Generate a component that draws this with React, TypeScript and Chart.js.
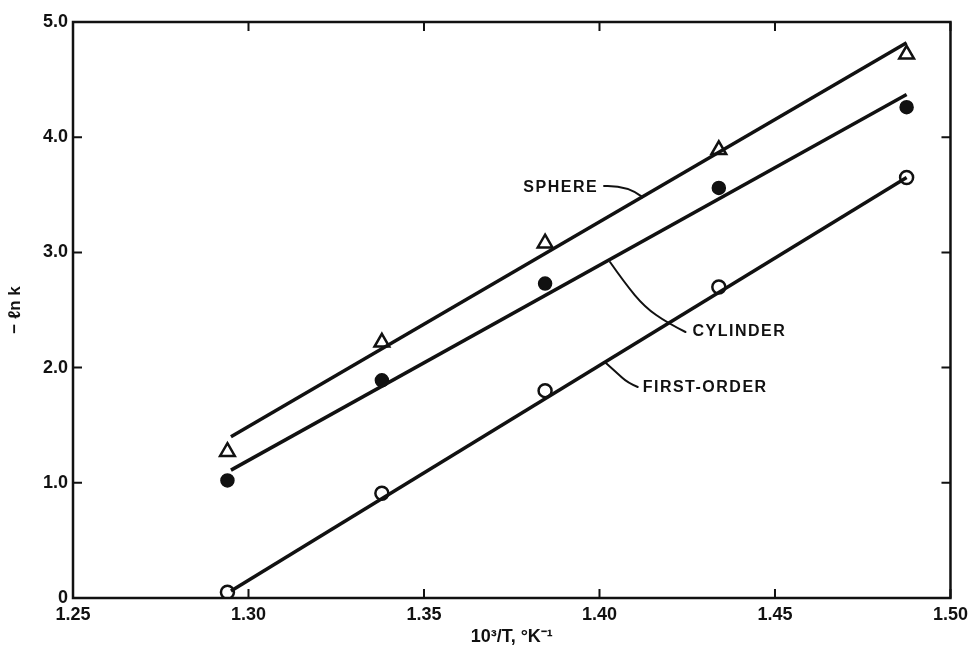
import React, { useEffect, useRef } from "react";
import { Chart, registerables } from "chart.js";

Chart.register(...registerables);

// Reciprocal temperature, 10^3/T (°K^-1)
const invTemp = [1.294, 1.338, 1.3845, 1.434, 1.4875];

// Measured -ln k for the three rate models
const sphereVals = [1.27, 2.22, 3.08, 3.89, 4.72];
const cylinderVals = [1.02, 1.89, 2.73, 3.56, 4.26];
const firstOrderVals = [0.05, 0.91, 1.8, 2.7, 3.65];

// Straight-line fits: endpoints [x, y]
const sphereFit = [[1.295, 1.4], [1.4875, 4.82]];
const cylinderFit = [[1.295, 1.11], [1.4875, 4.37]];
const firstOrderFit = [[1.295, 0.06], [1.4875, 3.65]];

// Axis ticks
const xTicks = [1.25, 1.3, 1.35, 1.4, 1.45, 1.5];
const yTicks = [0, 1, 2, 3, 4, 5];

// Curve labels with leader lines, in data units
const curveLabels = [
  {
    text: "SPHERE",
    at: [1.3783, 3.559],
    leader: [[1.4013, 3.576], [1.408, 3.585], [1.4123, 3.48]],
  },
  {
    text: "CYLINDER",
    at: [1.4265, 2.309],
    leader: [[1.403, 2.917], [1.4072, 2.734], [1.4129, 2.526], [1.4194, 2.387], [1.4245, 2.309]],
  },
  {
    text: "FIRST-ORDER",
    at: [1.4123, 1.823],
    leader: [[1.4015, 2.049], [1.4047, 1.962], [1.4081, 1.866], [1.4109, 1.832]],
  },
];

const FONT = "'Liberation Sans', Arial, sans-serif";
const INK = "#111";

const framePlugin = {
  id: "frameAndLabels",
  afterDatasetsDraw(chart: any) {
    const { ctx, chartArea: a, scales } = chart;
    const xs = scales.x;
    const ys = scales.y;
    ctx.save();
    ctx.strokeStyle = INK;
    ctx.lineWidth = 2.5;
    ctx.strokeRect(a.left, a.top, a.right - a.left, a.bottom - a.top);

    // inward ticks on all four sides
    const tl = 9;
    ctx.lineWidth = 2;
    ctx.beginPath();
    xTicks.forEach((v) => {
      const px = xs.getPixelForValue(v);
      ctx.moveTo(px, a.bottom);
      ctx.lineTo(px, a.bottom - tl);
      ctx.moveTo(px, a.top);
      ctx.lineTo(px, a.top + tl);
    });
    yTicks.forEach((v) => {
      const py = ys.getPixelForValue(v);
      ctx.moveTo(a.left, py);
      ctx.lineTo(a.left + tl, py);
      ctx.moveTo(a.right, py);
      ctx.lineTo(a.right - tl, py);
    });
    ctx.stroke();

    // curve labels and their leaders
    ctx.fillStyle = INK;
    ctx.font = `bold 16px ${FONT}`;
    (ctx as any).letterSpacing = "1.5px";
    ctx.textBaseline = "middle";
    ctx.textAlign = "left";
    curveLabels.forEach((lab) => {
      ctx.fillText(lab.text, xs.getPixelForValue(lab.at[0]), ys.getPixelForValue(lab.at[1]));
      const pts = lab.leader.map(([x, y]) => [xs.getPixelForValue(x), ys.getPixelForValue(y)]);
      ctx.lineWidth = 2;
      ctx.lineCap = "round";
      ctx.lineJoin = "round";
      ctx.beginPath();
      ctx.moveTo(pts[0][0], pts[0][1]);
      for (let i = 1; i < pts.length - 1; i++) {
        const last = i === pts.length - 2;
        const mx = last ? pts[i + 1][0] : (pts[i][0] + pts[i + 1][0]) / 2;
        const my = last ? pts[i + 1][1] : (pts[i][1] + pts[i + 1][1]) / 2;
        ctx.quadraticCurveTo(pts[i][0], pts[i][1], mx, my);
      }
      if (pts.length === 2) ctx.lineTo(pts[1][0], pts[1][1]);
      ctx.stroke();
    });
    ctx.restore();
  },
};

export default function App() {
  const ref = useRef<HTMLCanvasElement>(null);

  useEffect(() => {
    if (!ref.current) return;
    const toXY = (vals: number[]) => vals.map((y, i) => ({ x: invTemp[i], y }));
    const fitXY = (f: number[][]) => f.map(([x, y]) => ({ x, y }));
    const lineDs = (label: string, f: number[][]) => ({
      type: "line" as const,
      label,
      data: fitXY(f),
      borderColor: INK,
      borderWidth: 3.5,
      pointRadius: 0,
      showLine: true,
      fill: false,
      tension: 0,
    });

    const chart = new Chart(ref.current, {
      type: "scatter",
      data: {
        datasets: [
          lineDs("Sphere fit", sphereFit),
          lineDs("Cylinder fit", cylinderFit),
          lineDs("First-order fit", firstOrderFit),
          {
            label: "Sphere",
            data: toXY(sphereVals),
            pointStyle: "triangle",
            pointRadius: 8.5,
            backgroundColor: "#fff",
            borderColor: INK,
            borderWidth: 2.5,
          },
          {
            label: "Cylinder",
            data: toXY(cylinderVals),
            pointStyle: "circle",
            pointRadius: 6.5,
            backgroundColor: INK,
            borderColor: INK,
            borderWidth: 1.5,
          },
          {
            label: "First-order",
            data: toXY(firstOrderVals),
            pointStyle: "circle",
            pointRadius: 6.5,
            backgroundColor: "#fff",
            borderColor: INK,
            borderWidth: 2.5,
          },
        ],
      },
      options: {
        animation: false,
        responsive: false,
        layout: { padding: { top: 22, right: 20, left: 0, bottom: 0 } },
        plugins: {
          legend: { display: false },
          tooltip: { enabled: false },
        },
        scales: {
          x: {
            type: "linear",
            min: 1.25,
            max: 1.5,
            grid: { display: false, drawTicks: false },
            border: { display: false },
            afterBuildTicks: (s: any) => {
              s.ticks = xTicks.map((value) => ({ value }));
            },
            afterFit: (s: any) => {
              s.height = 51;
            },
            ticks: {
              color: INK,
              padding: 6,
              maxRotation: 0,
              font: { family: FONT, size: 18, weight: "bold" },
              callback: (v: any) => Number(v).toFixed(2),
            },
            title: {
              display: true,
              text: "10³/T, °K⁻¹",
              color: INK,
              padding: { top: 0, bottom: 1 },
              font: { family: FONT, size: 18, weight: "bold" },
            },
          },
          y: {
            type: "linear",
            min: 0,
            max: 5,
            grid: { display: false, drawTicks: false },
            border: { display: false },
            afterBuildTicks: (s: any) => {
              s.ticks = yTicks.map((value) => ({ value }));
            },
            afterFit: (s: any) => {
              s.width = 73;
            },
            ticks: {
              color: INK,
              padding: 5,
              font: { family: FONT, size: 18, weight: "bold" },
              callback: (v: any) => (Number(v) === 0 ? "0" : Number(v).toFixed(1)),
            },
            title: {
              display: true,
              text: "− ℓn k",
              color: INK,
              padding: { top: 5, bottom: 0 },
              font: { family: FONT, size: 17, weight: "bold" },
            },
          },
        },
      },
      plugins: [framePlugin],
    } as any);

    return () => chart.destroy();
  }, []);

  return (
    <div style={{ position: "fixed", left: 0, top: 0, width: 974, height: 649, background: "#fff" }}>
      <canvas ref={ref} width={974} height={649} />
    </div>
  );
}
